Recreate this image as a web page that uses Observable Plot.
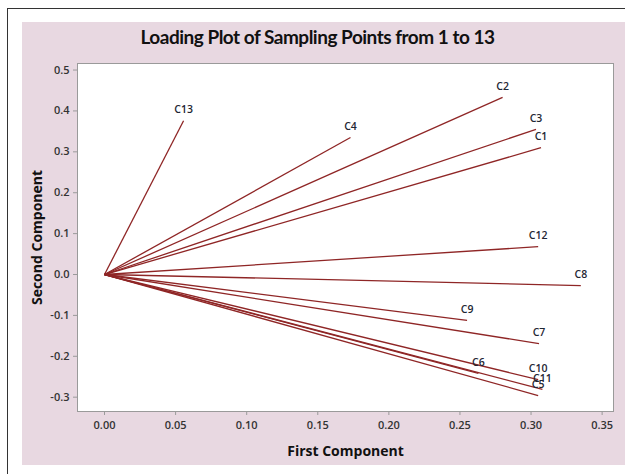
<!DOCTYPE html>
<html>
<head>
<meta charset="utf-8">
<script src="https://cdn.jsdelivr.net/npm/d3@7"></script>
<script src="https://cdn.jsdelivr.net/npm/@observablehq/plot@0.6"></script>
<style>
  html, body { margin: 0; padding: 0; background: #ffffff; }
  body { width: 625px; height: 474px; position: relative; overflow: hidden; font-family: "Open Sans", "Noto Sans", sans-serif; }
  #outer { position: absolute; left: 7px; top: 8px; width: 640px; height: 480px; border-left: 1.5px solid #333; border-top: 1.5px solid #333; }
  #panel { position: absolute; left: 22px; top: 22px; width: 603px; height: 443px; background: #e8d8e1; }
  #title { position: absolute; left: -6px; top: 3px; width: 603px; text-align: center; font-family: Lato, "Open Sans", sans-serif; font-weight: 700; font-size: 19px; color: #111; letter-spacing: -0.5px; }
  #chart { position: absolute; left: 0; top: 28px; }
</style>
</head>
<body>
<div id="outer"></div>
<div id="panel">
  <div id="title">Loading Plot of Sampling Points from 1 to 13</div>
  <div id="chart"></div>
</div>
<script>
const names = ["C1","C2","C3","C4","C5","C6","C7","C8","C9","C10","C11","C12","C13"];
const firstComponent  = [0.307, 0.280, 0.3035, 0.173, 0.305, 0.263, 0.3056, 0.335, 0.255, 0.305, 0.308, 0.305, 0.0556];
const secondComponent = [0.310, 0.433, 0.355, 0.335, -0.296, -0.242, -0.169, -0.027, -0.112, -0.257, -0.281, 0.068, 0.376];
const xTicks = [0.00, 0.05, 0.10, 0.15, 0.20, 0.25, 0.30, 0.35];
const yTicks = [-0.3, -0.2, -0.1, 0.0, 0.1, 0.2, 0.3, 0.4, 0.5];

const data = names.map((n, i) => ({name: n, x: firstComponent[i], y: secondComponent[i]}));

const lineColor = "#8f2626";
const chart = Plot.plot({
  width: 603,
  height: 415,
  marginLeft: 55,
  marginRight: 12,
  marginTop: 13,
  marginBottom: 54,
  style: {background: "transparent", fontFamily: "'Open Sans', sans-serif", fontSize: "11px", color: "#333"},
  x: {domain: [-0.019, 0.358]},
  y: {domain: [-0.335, 0.516]},
  marks: [
    Plot.frame({fill: "white", stroke: "#9a9a9a"}),
    Plot.link(data, {x1: d => 0, y1: d => 0, x2: "x", y2: "y", stroke: lineColor, strokeWidth: 1.3}),
    Plot.text(data, {x: "x", y: "y", text: "name", dy: -11, fill: "#1e2633", fontSize: 10.5, fontWeight: 600}),
    Plot.axisX({ticks: xTicks, tickFormat: d => d.toFixed(2), tickSize: 4, tickPadding: 6, stroke: "#9a9a9a", fill: "#333", fontWeight: 600, fontSize: 11,
      label: "First Component", labelAnchor: "center", labelArrow: "none", labelOffset: 44}),
    Plot.axisY({ticks: yTicks, tickFormat: d => d.toFixed(1), tickSize: 4, tickPadding: 4, stroke: "#9a9a9a", fill: "#333", fontWeight: 600, fontSize: 11,
      label: "Second Component", labelAnchor: "center", labelArrow: "none", labelOffset: 45})
  ]
});
document.getElementById("chart").appendChild(chart);
d3.select(chart).selectAll("g[aria-label='x-axis label'] text, g[aria-label='y-axis label'] text")
  .attr("font-size", 14).attr("font-weight", 700).attr("fill", "#111");
</script>
</body>
</html>
